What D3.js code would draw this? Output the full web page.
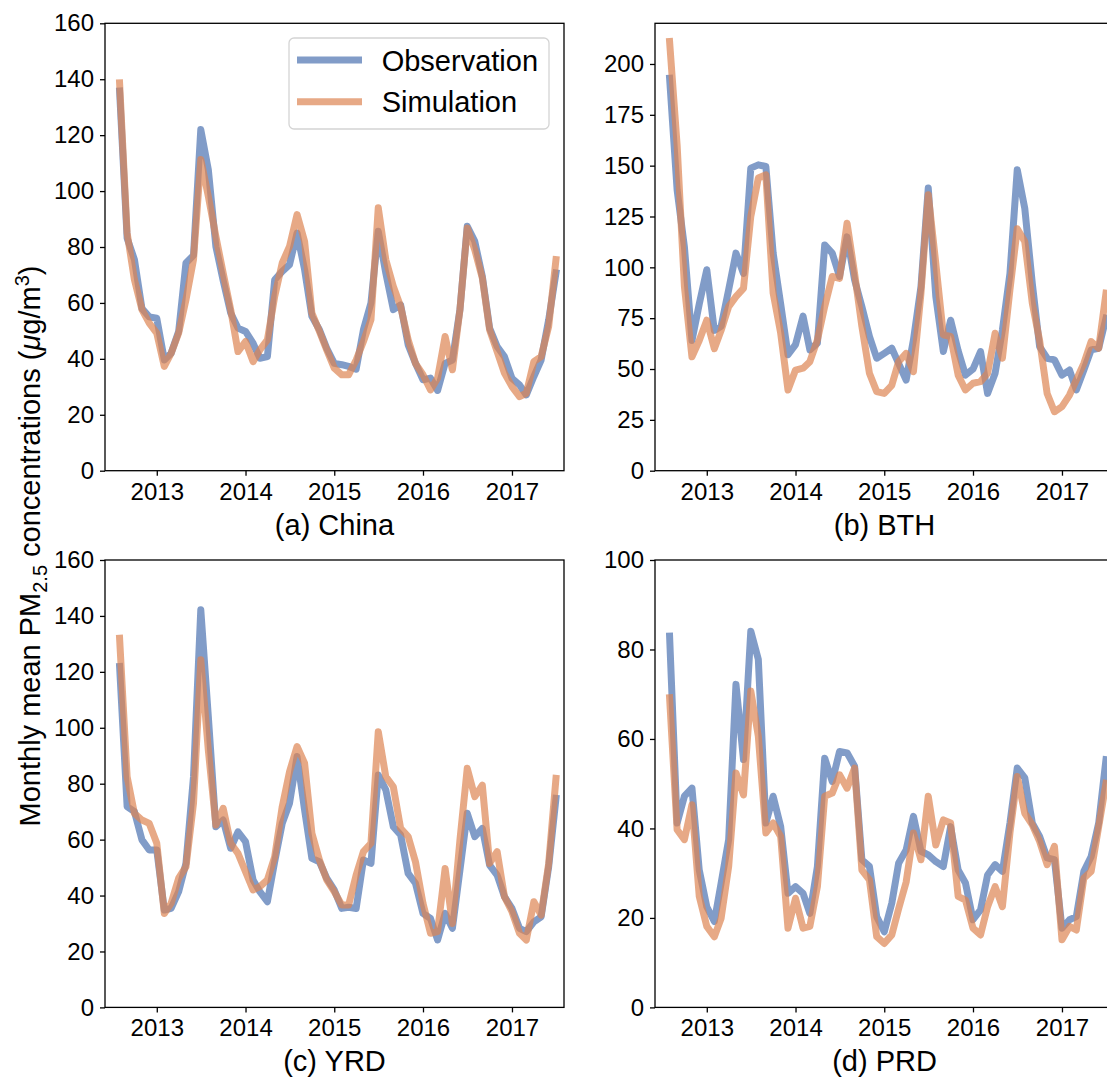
<!DOCTYPE html>
<html>
<head>
<meta charset="utf-8">
<script src="https://cdn.jsdelivr.net/npm/d3@7"></script>
<style>
  body { margin: 0; background: #fff; }
  text { font-family: "Liberation Sans", Arial, Helvetica, sans-serif; fill: #000; }
</style>
</head>
<body>
<svg id="chart"></svg>
<script>
// monthly series, Aug 2012 .. Jul 2017
var startMonth = new Date(2012, 7, 1);
var yearTicks = [2013, 2014, 2015, 2016, 2017];

var chinaObs = [135.8, 83.2, 75.5, 58, 55, 54.5, 39.6, 42, 49.8, 74.3, 77, 122, 107.7, 80.2, 68, 56.4, 51, 49.8, 45.6, 40.2,
                40.8, 68.3, 71.3, 73.7, 85, 71.9, 55.2, 50.4, 43.8, 38.4, 37.9, 37.3, 36.3, 50.4, 60, 85.6, 70.7, 57.6, 59.3, 45,
                38.4, 32.5, 33.1, 28.7, 38.4, 39.6, 57.6, 87.4, 82, 69.5, 51, 44.4, 40.8, 33, 30.7, 27.1, 33.7, 39.6, 54, 70.7];
var chinaSim = [138.7, 85, 68.3, 57.6, 52.8, 49.2, 37.3, 42, 49.2, 61.1, 75.5, 111.3, 98.1, 83.8, 70.7, 57.6, 42.6, 46.2, 39, 43.2,
                46.8, 62.3, 74.3, 80.2, 91.6, 82, 56.4, 49.8, 43.2, 36.7, 34.3, 34.3, 39.6, 46.2, 54, 94, 75.5, 65.9, 58.7, 46.8,
                38.4, 34.3, 28.9, 33.1, 48, 36.1, 57.6, 86.8, 79, 68.9, 50.4, 42.6, 34.9, 30.1, 26.5, 27.7, 39, 40.8, 51.6, 75.5];

var bthObs = [193, 138, 110, 64, 82, 98.8, 69, 71, 89, 107, 97, 148.8, 150.4, 149.6, 107, 82, 57, 62, 76, 59.4,
              62.7, 111, 107, 95.5, 115, 93.8, 80.7, 66, 55.3, 57.7, 60.2, 52.8, 44.6, 64.3, 90.5, 139, 85.6, 58.6, 74, 59,
              47, 50, 58.6, 38, 47.9, 69.2, 97, 148, 129, 92, 61, 55.3, 54.5, 47, 49.5, 39.7, 49.5, 59.4, 60.2, 75];
var bthSim = [211, 160, 90.5, 56, 64, 74, 60, 69, 80.7, 85.6, 89.7, 125, 143.9, 145.5, 87.3, 67.6, 39.7, 49.5, 50.4, 53.6,
              64.3, 80.7, 95.5, 94.6, 121.7, 97, 70.9, 47.9, 38.9, 38, 42, 53.6, 57.7, 48.7, 87.3, 135.7, 102, 66.8, 66, 47,
              39.7, 43, 43.8, 47.9, 67.6, 55.3, 89, 119, 112.7, 82.3, 64, 38, 29, 31.5, 37.2, 44.6, 52.8, 63.5, 60.2, 87.3];

var yrdObs = [121.9, 71.8, 70, 59.9, 56.3, 56.3, 34.8, 35.4, 41.4, 51.5, 82.5, 142.2, 104, 64.6, 67, 56.9, 62.8, 59.3, 45.6, 41.4,
              37.8, 52.1, 65.8, 73, 89.7, 70.6, 53.3, 52.1, 46.2, 42, 35.4, 35.8, 35.4, 52.7, 51.5, 83.1, 77.8, 64.6, 61.7, 47.9,
              44.4, 33.6, 31.8, 24.1, 33.6, 28.3, 49.1, 69.4, 61.1, 64, 50.9, 47.3, 39.6, 35.4, 28.3, 27.1, 30.6, 32.4, 50.3, 74.8];
var yrdSim = [132, 82.5, 69.4, 67, 65.8, 58.7, 33.6, 37.2, 46.2, 50.3, 73, 124.3, 92, 65.2, 71.2, 58.7, 55.1, 48.5, 42, 43.2,
              45.6, 53.9, 71.8, 84.3, 93.3, 87.3, 62.3, 52.7, 45.6, 41.4, 36.6, 36.6, 47.3, 55.7, 58.7, 98.6, 82.5, 78.9, 64, 61.1,
              52.1, 37.2, 26.5, 27.1, 49.7, 30, 59.9, 85.5, 75.4, 79.5, 51.5, 55.7, 39.6, 34.2, 26.5, 24.1, 37.8, 33, 51.5, 81.9];

var prdObs = [83, 41.2, 47.2, 49, 30.7, 22.5, 19.2, 27.8, 37.5, 72.2, 55.4, 84.1, 77.8, 41.2, 47.2, 40.4, 25.5, 27, 25.5, 21,
              31.5, 55.7, 50.5, 57.2, 56.9, 53.9, 33, 31.5, 20.3, 16.9, 23.3, 32.2, 35.2, 42.7, 34.9, 34.1, 32.6, 31.5, 40.4, 30.7,
              27.8, 19.6, 21.8, 29.6, 31.9, 30.4, 41.2, 53.5, 51.3, 41.2, 38.2, 33.4, 33, 17.7, 19.6, 20.3, 30.4, 33.7, 41.2, 55.4];
var prdSim = [69.2, 39.7, 37.5, 45.3, 24.8, 18.1, 15.8, 19.9, 31.5, 52.4, 47.5, 70.7, 60.6, 39, 41.2, 38.2, 17.7, 24.4, 17.7, 18.1,
              27, 47.2, 47.9, 52, 49, 53.5, 30.7, 28.5, 15.8, 14.3, 16.2, 22, 28, 39, 33, 47.2, 36.3, 41.9, 41.2, 24.8,
              24, 17.7, 16.2, 22.5, 27, 22.5, 39, 51.6, 43.4, 40.8, 37.1, 31.9, 36, 15.1, 18.1, 17.3, 28.9, 30.4, 40.4, 50.1];

var ticks160 = [0, 20, 40, 60, 80, 100, 120, 140, 160];
var ticks200 = [0, 25, 50, 75, 100, 125, 150, 175, 200];
var ticks100 = [0, 20, 40, 60, 80, 100];

var panels = [
  { title: "(a) China", obs: chinaObs, sim: chinaSim, ymax: 160, ticks: ticks160, col: 0, row: 0 },
  { title: "(b) BTH",   obs: bthObs,   sim: bthSim,   ymax: 220, ticks: ticks200, col: 1, row: 0 },
  { title: "(c) YRD",   obs: yrdObs,   sim: yrdSim,   ymax: 160, ticks: ticks160, col: 0, row: 1 },
  { title: "(d) PRD",   obs: prdObs,   sim: prdSim,   ymax: 100, ticks: ticks100, col: 1, row: 1 }
];

var obsColor = "#4c72b0", simColor = "#dd8452";

var W = 1107, H = 1079;
var lefts = [105, 655], tops = [23.3, 560];
var pw = 459, ph = 447.4;

var svg = d3.select("#chart").attr("width", W).attr("height", H)
  .style("display", "block").style("background", "#fff");

var x = d3.scaleTime()
  .domain([new Date(2012, 5, 2), new Date(2017, 7, 3)])
  .range([0, pw]);

function monthDate(i) { return d3.timeMonth.offset(startMonth, i); }

panels.forEach(function(p, k) {
  var g = svg.append("g")
    .attr("transform", "translate(" + lefts[p.col] + "," + tops[p.row] + ")");
  var y = d3.scaleLinear().domain([0, p.ymax]).range([ph, 0]);

  g.append("clipPath").attr("id", "clip" + k)
    .append("rect").attr("width", pw).attr("height", ph);

  var line = d3.line()
    .x(function(d, i) { return x(monthDate(i)); })
    .y(function(d) { return y(d); });

  var plot = g.append("g").attr("clip-path", "url(#clip" + k + ")");
  [[p.obs, obsColor], [p.sim, simColor]].forEach(function(s) {
    plot.append("path").datum(s[0])
      .attr("d", line)
      .attr("fill", "none")
      .attr("stroke", s[1])
      .attr("stroke-opacity", 0.7)
      .attr("stroke-width", 7)
      .attr("stroke-linejoin", "round")
      .attr("stroke-linecap", "square");
  });

  // axes
  var xAxis = d3.axisBottom(x)
    .tickValues(yearTicks.map(function(yr) { return new Date(yr, 0, 1); }))
    .tickFormat(d3.timeFormat("%Y"))
    .tickSize(5).tickPadding(6);
  var yAxis = d3.axisLeft(y).tickValues(p.ticks).tickSize(5).tickPadding(6);

  var xa = g.append("g").attr("transform", "translate(0," + ph + ")").call(xAxis);
  var ya = g.append("g").call(yAxis);
  [xa, ya].forEach(function(a) {
    a.select(".domain").remove();
    a.selectAll(".tick line").attr("stroke", "#000").attr("stroke-width", 1.3);
    a.selectAll(".tick text").attr("font-size", 24)
      .style("font-family", "'Liberation Sans', Arial, Helvetica, sans-serif");
  });
  xa.selectAll(".tick text").attr("dy", null).attr("y", 29);

  // spines
  g.append("rect").attr("width", pw).attr("height", ph)
    .attr("fill", "none").attr("stroke", "#000").attr("stroke-width", 1.3);

  g.append("text").attr("x", pw / 2).attr("y", ph + 64)
    .attr("text-anchor", "middle").attr("font-size", 29)
    .text(p.title);

  if (k === 0) {
    var lg = g.append("g").attr("transform", "translate(184,14.7)");
    lg.append("rect").attr("width", 260).attr("height", 91).attr("rx", 5)
      .attr("fill", "#fff").attr("fill-opacity", 0.8)
      .attr("stroke", "#d4d4d4").attr("stroke-width", 1.3);
    [["Observation", obsColor], ["Simulation", simColor]].forEach(function(e, j) {
      var ly = 22 + j * 41.7;
      lg.append("line").attr("x1", 8).attr("x2", 73).attr("y1", ly).attr("y2", ly)
        .attr("stroke", e[1]).attr("stroke-opacity", 0.7).attr("stroke-width", 7);
      lg.append("text").attr("x", 92.7).attr("y", ly + 10.5)
        .attr("font-size", 29).text(e[0]);
    });
  }
});

// shared y label
var yl = svg.append("text")
  .attr("transform", "translate(40,546) rotate(-90)")
  .attr("text-anchor", "middle").attr("font-size", 29);
yl.append("tspan").text("Monthly mean PM");
yl.append("tspan").attr("font-size", 20).attr("dy", 7).text("2.5");
yl.append("tspan").attr("dy", -7).text(" concentrations (");
yl.append("tspan").attr("font-style", "italic").text("\u03bc");
yl.append("tspan").text("g/m");
yl.append("tspan").attr("font-size", 20).attr("dy", -11).text("3");
yl.append("tspan").attr("dy", 11).text(")");
</script>
</body>
</html>
